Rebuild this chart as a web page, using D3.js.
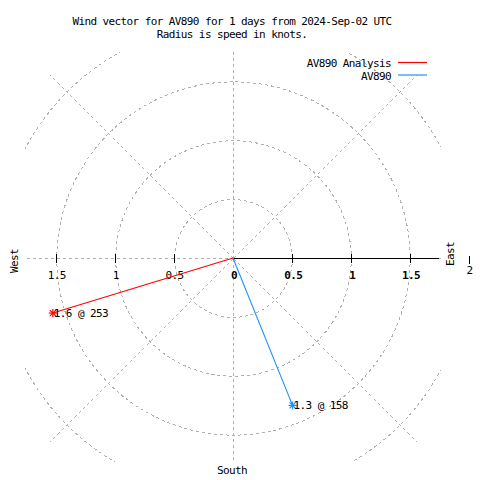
<!DOCTYPE html>
<html><head><meta charset="utf-8">
<script src="https://cdn.jsdelivr.net/npm/d3@7"></script>
<style>
body{margin:0;background:#fff;}
text{font-family:"DejaVu Sans Mono",monospace;font-size:11px;letter-spacing:-0.6px;fill:#000;}
</style></head>
<body><div id="chart"></div>
<script>
// ---- data ----
const seriesNames = ["AV890 Analysis", "AV890"];
const seriesColors = ["#ff0000", "#1e90ff"];
const speeds = [1.6, 1.35];          // knots (radius)
const directions = [253, 158];       // degrees, clockwise from north
const pointLabels = ["1.6 @ 253", "1.3 @ 158"];
const gridRadii = [0.5, 1, 1.5, 2];
const tickValues = [0.5, 1, 1.5];
const tickLabels = ["0.5", "1", "1.5"];
const spokeAngles = [0, 45, 90, 135, 180, 225, 270, 315];
const titleLines = ["Wind vector for AV890 for 1 days from 2024-Sep-02 UTC", "Radius is speed in knots."];

const W = 480, H = 480;
const cx = 233, cy = 258;
const r = d3.scaleLinear().domain([0, 2]).range([0, 235.5]);
const px = (v, a) => cx + r(v) * Math.sin(a * Math.PI / 180);
const py = (v, a) => cy - r(v) * Math.cos(a * Math.PI / 180);

const svg = d3.select("#chart").append("svg").attr("width", W).attr("height", H);
svg.append("rect").attr("width", W).attr("height", H).attr("fill", "#fff");

svg.append("defs").append("clipPath").attr("id", "plot")
  .append("rect").attr("x", 25).attr("y", 52).attr("width", 416).attr("height", 410);

const g = svg.append("g").attr("clip-path", "url(#plot)");
const gridStyle = s => s.attr("fill", "none").attr("stroke", "#b0b0b0").attr("stroke-width", 1)
  .attr("stroke-dasharray", "3,3").attr("shape-rendering", "crispEdges");

// grid circles
g.selectAll("circle.grid").data(gridRadii).join("circle")
  .attr("cx", cx + 0.5).attr("cy", cy + 0.5).attr("r", d => r(d)).call(gridStyle);
// spokes
g.selectAll("line.spoke").data(spokeAngles).join("line")
  .attr("x1", cx + 0.5).attr("y1", cy + 0.5)
  .attr("x2", d => px(2.2, d) + 0.5).attr("y2", d => py(2.2, d) + 0.5).call(gridStyle);

// polar axis (east side)
g.append("line").attr("x1", cx).attr("y1", cy + 0.5).attr("x2", 439).attr("y2", cy + 0.5)
  .attr("stroke", "#000").attr("stroke-width", 1);

// ticks
const ticksAll = [];
tickValues.forEach(v => { ticksAll.push({x: cx - r(v)}); ticksAll.push({x: cx + r(v)}); });
svg.selectAll("line.tick").data(ticksAll).join("line")
  .attr("x1", d => Math.round(d.x) + 0.5).attr("x2", d => Math.round(d.x) + 0.5).attr("y1", cy - 4).attr("y2", cy + 5)
  .attr("stroke", "#000").attr("stroke-width", 1);
// outer tick at r=2 (outside plot)
svg.append("line").attr("x1", Math.round(cx + r(2)) + 0.5).attr("x2", Math.round(cx + r(2)) + 0.5).attr("y1", cy - 2).attr("y2", cy + 6)
  .attr("stroke", "#000");
svg.append("text").attr("x", cx + r(2) + 1).attr("y", 274).attr("text-anchor", "middle").text("2");

// tick labels
const lbl = svg.append("g").attr("text-anchor", "middle");
tickValues.forEach((v, i) => {
  lbl.append("text").attr("x", cx - r(v) + 0.5).attr("y", 279).text(tickLabels[i]);
  lbl.append("text").attr("x", cx + r(v) + 1.5).attr("y", 279).attr("font-weight", "bold").text(tickLabels[i]);
});
lbl.append("text").attr("x", cx + 1).attr("y", 279).attr("font-weight", "bold").text("0");

// vectors
const vec = speeds.map((s, i) => ({s, a: directions[i], c: seriesColors[i], l: pointLabels[i]}));
svg.selectAll("line.vec").data(vec).join("line")
  .attr("x1", cx).attr("y1", cy)
  .attr("x2", d => px(d.s, d.a)).attr("y2", d => py(d.s, d.a))
  .attr("stroke", d => d.c).attr("stroke-width", 1.1);
// star markers
const star = svg.selectAll("g.star").data(vec).join("g")
  .attr("transform", d => `translate(${px(d.s, d.a)},${py(d.s, d.a)})`);
[[-4,0,4,0],[0,-4,0,4],[-3,-3,3,3],[-3,3,3,-3]].forEach(s => {
  star.append("line").attr("x1", s[0]).attr("y1", s[1]).attr("x2", s[2]).attr("y2", s[3])
    .attr("stroke", d => d.c).attr("stroke-width", 1.2);
});
svg.selectAll("text.pl").data(vec).join("text")
  .attr("x", d => px(d.s, d.a) + 1).attr("y", d => py(d.s, d.a) + 3.5).text(d => d.l);

// axis names
svg.append("text").attr("transform", "translate(18,261) rotate(-90)").attr("text-anchor", "middle").text("West");
svg.append("text").attr("transform", "translate(454,254) rotate(-90)").attr("text-anchor", "middle").text("East");
svg.append("text").attr("x", 232).attr("y", 474).attr("text-anchor", "middle").text("South");

// title
svg.selectAll("text.title").data(titleLines).join("text")
  .attr("x", 232).attr("y", (d, i) => 25 + i * 13).attr("text-anchor", "middle").text(d => d);

// legend
const leg = svg.selectAll("g.leg").data(seriesNames).join("g")
  .attr("transform", (d, i) => `translate(0,${67 + i * 12.5})`);
leg.append("text").attr("x", 391).attr("y", 0).attr("text-anchor", "end").text(d => d);
leg.append("line").attr("x1", 398).attr("x2", 427).attr("y1", -4.5).attr("y2", -4.5)
  .attr("stroke", (d, i) => seriesColors[i]).attr("stroke-width", 1.2);
</script></body></html>
